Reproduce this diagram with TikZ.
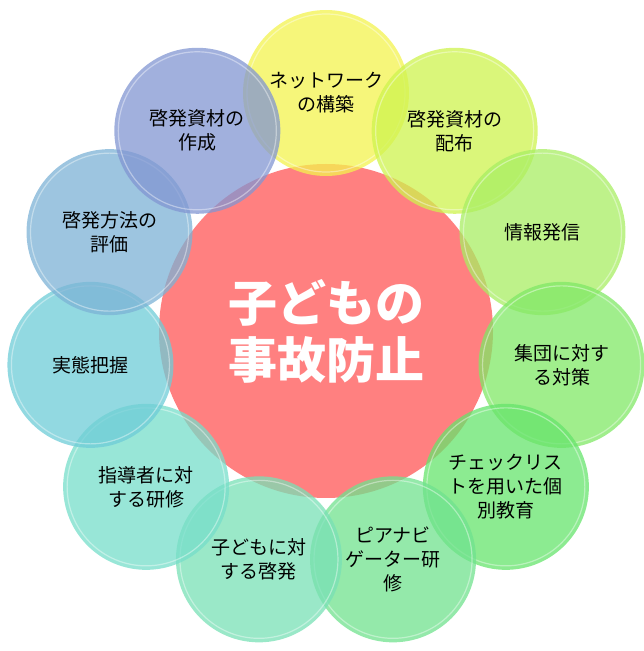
\documentclass[tikz,border=0pt]{standalone}
\usepackage{fontspec}
\usetikzlibrary{calc}
\setmainfont{Noto Sans CJK JP}
\definecolor{cRed}{RGB}{255,86,86}
\definecolor{cA}{RGB}{243,243,78}
\definecolor{cB}{RGB}{206,243,78}
\definecolor{cC}{RGB}{168,238,99}
\definecolor{cD}{RGB}{128,232,102}
\definecolor{cE}{RGB}{102,228,108}
\definecolor{cF}{RGB}{112,226,142}
\definecolor{cG}{RGB}{120,224,182}
\definecolor{cH}{RGB}{118,222,202}
\definecolor{cI}{RGB}{110,204,215}
\definecolor{cJ}{RGB}{124,178,213}
\definecolor{cK}{RGB}{130,150,210}
\tikzset{
  x=1pt, y=1pt,
  bubble/.style={circle, minimum size=166pt, inner sep=0pt, fill=#1, fill opacity=0.75, text opacity=1,
    align=center, font=\fontsize{19}{24}\selectfont, text=black},
  rim/.style={draw=white, draw opacity=0.4, line width=1.2pt},
  hub/.style={circle, minimum size=334pt, inner sep=0pt, fill=cRed, fill opacity=0.75, text opacity=1,
    text=white, align=center, font=\fontsize{49}{57}\selectfont\bfseries}
}
\begin{document}
\begin{tikzpicture}
\useasboundingbox (0,0) rectangle (643,651);
\node[hub] (hub) at (326,320) {};
\foreach \i/\c/\t in {0/cA/{ネットワーク\\の構築},1/cB/{啓発資材の\\配布},2/cC/{情報発信},3/cD/{集団に対す\\る対策},4/cE/{チェックリス\\トを用いた個\\別教育},5/cF/{ピアナビ\\ゲーター研\\修},6/cG/{子どもに対\\する啓発},7/cH/{指導者に対\\する研修},8/cI/{実態把握},9/cJ/{啓発方法の\\評価},10/cK/{啓発資材の\\作成}}{
  \node[bubble=\c] (c\i) at ($(hub)+({90-\i*360/11}:238)$) {\t};
  \draw[rim] (c\i) circle (79);
}
\node[text=white, align=center, font=\fontsize{49}{57}\selectfont\bfseries] (title) at (hub) {子どもの\\事故防止};
\end{tikzpicture}
\end{document}
